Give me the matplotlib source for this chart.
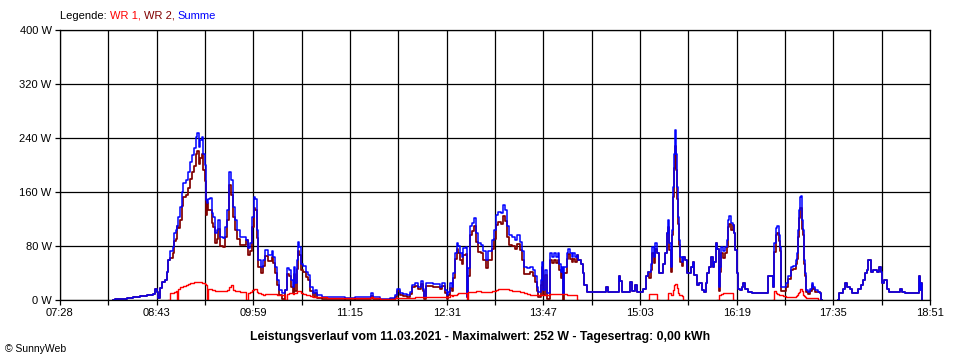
import numpy as np
import matplotlib
matplotlib.use("Agg")
from matplotlib import pyplot as plt

plt.rcParams["font.family"] = ["Liberation Sans", "DejaVu Sans"]

# sample times in minutes after midnight, power in W (None = no value)
times = [
    489.6, 491.2, 495.1, 500.6, 505.3, 510.8, 516.3, 518.7,
    521.0, 522.6, 524.2, 524.9, 526.5, 528.1, 530.4, 532.0,
    532.8, 534.4, 536.7, 537.5, 539.1, 539.9, 540.6, 542.2,
    543.8, 544.6, 546.9, 548.5, 550.1, 551.6, 553.2, 554.8,
    555.6, 557.1, 557.9, 559.5, 560.3, 561.8, 562.6, 563.4,
    564.2, 565.8, 567.3, 568.1, 569.7, 571.3, 572.0, 573.6,
    576.0, 577.5, 579.1, 580.7, 582.2, 583.8, 585.4, 587.0,
    589.3, 591.7, 594.0, 595.6, 597.2, 598.7, 600.3, 601.1,
    602.7, 603.4, 605.8, 607.4, 608.9, 611.3, 614.4, 615.2,
    616.8, 618.4, 619.9, 622.3, 624.6, 626.2, 627.8, 629.3,
    630.9, 631.7, 632.5, 634.1, 634.8, 635.6, 637.2, 638.8,
    641.1, 642.7, 644.3, 646.6, 648.2, 649.8, 653.7, 657.6,
    663.9, 671.7, 679.6, 687.4, 690.6, 692.2, 693.7, 699.2,
    707.1, 711.0, 712.6, 714.9, 717.3, 720.4, 722.8, 724.3,
    726.7, 729.1, 731.4, 733.0, 733.8, 735.3, 738.5, 740.8,
    744.0, 746.3, 747.9, 750.2, 751.8, 752.6, 754.2, 755.7,
    756.5, 758.1, 759.7, 760.5, 762.0, 763.6, 764.4, 766.7,
    767.5, 768.3, 769.9, 771.4, 773.0, 774.6, 776.1, 778.5,
    780.1, 782.4, 784.0, 787.1, 788.7, 790.3, 791.9, 794.2,
    795.8, 797.4, 798.9, 800.5, 802.8, 805.2, 806.8, 809.1,
    810.7, 812.3, 814.6, 817.0, 819.3, 820.9, 822.5, 823.3,
    825.6, 826.4, 827.2, 828.8, 830.3, 832.7, 834.2, 835.8,
    837.4, 839.0, 839.7, 841.3, 842.1, 842.9, 843.7, 846.0,
    846.8, 848.4, 849.9, 850.7, 852.3, 853.9, 854.7, 857.0,
    858.6, 859.4, 861.7, 868.0, 874.3, 876.6, 878.2, 885.3,
    886.8, 887.6, 889.2, 895.5, 897.0, 899.4, 901.0, 905.7,
    908.0, 909.6, 910.4, 912.0, 912.8, 914.3, 915.1, 916.7,
    918.2, 919.0, 921.4, 923.0, 924.5, 925.3, 926.1, 927.7,
    928.5, 929.2, 930.0, 930.8, 931.6, 932.4, 933.2, 934.0,
    934.7, 936.3, 937.1, 938.7, 940.2, 941.8, 943.4, 944.9,
    945.7, 948.1, 949.7, 952.0, 953.6, 955.1, 955.9, 957.5,
    959.1, 960.6, 961.4, 963.0, 963.8, 965.3, 966.1, 966.9,
    968.5, 970.1, 971.6, 972.4, 973.2, 974.8, 976.3, 977.1,
    977.9, 979.5, 980.3, 981.8, 983.4, 984.2, 985.8, 988.1,
    991.3, 997.5, 1003.0, 1003.8, 1007.0, 1007.7, 1008.5, 1010.1,
    1010.9, 1012.5, 1013.2, 1014.0, 1015.6, 1018.0, 1019.5, 1021.9,
    1023.4, 1025.8, 1026.6, 1027.4, 1028.1, 1028.9, 1029.7, 1030.5,
    1031.3, 1032.1, 1032.9, 1033.7, 1035.2, 1036.8, 1038.4, 1039.2,
    1040.7, 1043.1, 1044.6, 1045.4, 1046.2, 1058.8, 1059.6, 1061.9,
    1062.7, 1064.3, 1065.8, 1068.2, 1069.8, 1072.9, 1074.5, 1076.8,
    1078.4, 1080.0, 1081.6, 1082.3, 1083.1, 1084.7, 1086.3, 1089.4,
    1091.0, 1092.5, 1093.3, 1094.9, 1097.2, 1098.8, 1102.0, 1105.1,
    1107.4, 1109.0, 1111.4, 1115.3, 1119.2, 1121.6, 1122.4, 1123.2,
    1123.9, 1124.7,
]

summe = [
    0, 1, 1, 3, 4, 6, 7, 8,
    9, 17, 12, 3, 18, 26, 30, 42,
    59, 72, 79, 99, 104, 110, 123, 138,
    160, 173, 178, 190, 205, 215, 225, 242,
    247, 227, 237, 242, 217, 200, 148, 143,
    150, 151, 129, 123, 99, 104, 118, 94,
    92, 108, 133, 190, 178, 138, 118, 104,
    94, 94, 89, 77, 84, 123, 153, 150,
    104, 59, 49, 59, 74, 67, 72, 64,
    49, 30, 15, 10, 15, 47, 45, 30,
    20, 49, 25, 59, 86, 79, 54, 50,
    42, 37, 20, 10, 15, 7, 5, 4,
    4, 3, 4, 4, 5, 10, 4, 2,
    3, 7, 16, 10, 9, 8, 12, 22,
    25, 20, 28, 17, 5, 25, 25, 24,
    23, 20, 25, 15, 7, 12, 25, 20,
    40, 69, 84, 80, 69, 64, 77, 79,
    5, 47, 109, 114, 121, 99, 84, 82,
    72, 59, 72, 89, 104, 126, 131, 129,
    141, 133, 109, 96, 94, 89, 96, 86,
    72, 49, 47, 49, 44, 35, 20, 12,
    30, 57, 15, 44, 10, 69, 64, 69,
    64, 69, 54, 42, 49, 9, 49, 69,
    76, 69, 64, 69, 64, 67, 59, 54,
    40, 22, 12, 12, 12, 20, 12, 12,
    35, 28, 12, 27, 13, 22, 12, 17,
    35, 42, 42, 54, 79, 64, 84, 69,
    40, 40, 54, 69, 99, 118, 84, 49,
    104, 168, 217, 252, 217, 168, 123, 89,
    64, 57, 64, 59, 40, 40, 49, 57,
    37, 22, 25, 15, 12, 25, 40, 49,
    64, 49, 57, 84, 76, 20, 49, 79,
    72, 79, 89, 118, 124, 114, 111, 99,
    74, 40, 17, 15, 20, 25, 17, 12,
    11, 11, 11, 35, 35, 20, 84, 107,
    109, 96, 79, 20, 20, 25, 35, 49,
    50, 59, 69, 104, 133, 153, 154, 118,
    104, 59, 40, 15, 12, 17, 25, 20,
    15, 12, 11, 0, None, 0, 10, 10,
    17, 25, 20, 17, 11, 11, 17, 22,
    30, 40, 44, 59, 59, 42, 44, 42,
    49, 42, 25, 30, 17, 12, 12, 12,
    17, 12, 11, 11, 11, 10, 35, 15,
    25, 0,
]

wr1 = [
    None, None, None, None, None, None, None, None,
    None, None, None, None, None, None, None, None,
    0, 10, 10, 12, 13, 0, 17, 20,
    20, 21, 22, 24, 25, 25, 26, 26,
    26, 26, 26, 25, 25, 24, 22, 0,
    17, 17, 15, 15, 14, 13, 13, 14,
    13, 14, 15, 20, 22, 15, 14, 13,
    12, 12, 0, 11, 12, 15, 17, 17,
    12, 10, 9, 8, 9, 9, 9, 9,
    9, 8, 8, 8, 0, 9, 10, 10,
    9, 10, 11, 13, 14, 13, 10, 9,
    8, 7, 6, 5, 5, 4, 4, 3,
    3, 3, 3, 3, 3, 4, 3, 2,
    2, 3, 3, 3, 3, 3, 3, 3,
    4, 4, 4, 4, 4, 4, 4, 4,
    4, 4, 4, 5, 5, 5, 7, 6,
    7, 8, 9, 10, 10, 10, 11, 11,
    0, 12, 12, 12, 12, 13, 13, 12,
    12, 12, 12, 13, 14, 15, 16, 17,
    17, 16, 16, 15, 14, 13, 13, 12,
    12, 11, 9, 8, 8, 8, 7, 7,
    8, 8, 8, 7, 8, 9, 9, 9,
    9, 9, 9, 9, 9, 9, 9, 8,
    8, 8, 8, 8, 8, 0, None, None,
    None, None, None, None, None, None, None, None,
    None, None, None, None, None, None, None, None,
    None, 0, 9, 9, 9, 9, 9, 0,
    None, None, None, None, 0, 10, 10, 7,
    7, 15, 22, 24, 24, 18, 10, 8,
    7, 6, 0, None, None, None, None, None,
    None, None, None, None, None, None, None, None,
    None, None, None, None, 0, 7, 8, 9,
    10, 10, 10, 10, 11, 11, 0, None,
    None, None, None, None, None, None, None, None,
    None, None, None, None, None, 0, 13, 10,
    9, 8, 7, 7, 6, 5, 4, 4,
    4, 6, 8, 10, 12, 17, 17, 13,
    8, 6, 4, 3, 3, 3, 3, 3,
    3, 0, None, None, None, None, None, None,
    None, None, None, None, None, None, None, None,
    None, None, None, None, None, None, None, None,
    None, None, None, None, None, None, None, None,
    None, None, None, None, None, None, None, None,
    None, None,
]

x_labels = ["07:28", "08:43", "09:59", "11:15", "12:31",
            "13:47", "15:03", "16:19", "17:35", "18:51"]
y_ticks = [0, 80, 160, 240, 320, 400]
legend_parts = ["Legende: ", "WR 1, ", "WR 2, ", "Summe"]
legend_colors = ["black", "#ff0000", "#800000", "#0000ff"]

t = np.array(times)
s = np.array(summe, dtype=float)
r1 = np.array(wr1, dtype=float)
r2 = np.where(np.isnan(r1), s, np.clip(s - r1, 0, None))

fig = plt.figure(figsize=(9.6, 3.6), dpi=100)
ax = fig.add_axes([60 / 960, 60 / 360, 870 / 960, 270 / 360])

t0, t1 = 448, 1131
grid_x = np.linspace(t0, t1, 2 * len(x_labels) - 1)
ax.set_xlim(t0, t1)
ax.set_ylim(0, 400)
ax.set_xticks(grid_x)
ax.set_xticklabels([x_labels[i // 2] if i % 2 == 0 else "" for i in range(len(grid_x))])
ax.set_yticks(y_ticks)
ax.set_yticklabels([f"{v} W" for v in y_ticks])
ax.set_axisbelow(True)
ax.grid(True, color="black", lw=0.9)
ax.tick_params(direction="out", length=3.6, width=0.9, colors="black",
               labelsize=8, pad=2.5)
for sp in ax.spines.values():
    sp.set_linewidth(0.9)
    sp.set_color("black")

ax.plot(t, r2, drawstyle="steps-post", color="#800000", lw=1.25)
ax.plot(t, s, drawstyle="steps-post", color="#0000ff", lw=1.1)
ax.plot(t, r1, drawstyle="steps-post", color="#ff0000", lw=1.0)

fig.text(0.5, 1 - 337 / 360,
         "Leistungsverlauf vom 11.03.2021 - Maximalwert: 252 W - Tagesertrag: 0,00 kWh",
         ha="center", va="center", fontsize=8.8, fontweight="bold")
fig.text(5 / 960, 1 - 349 / 360, "\u00a9 SunnyWeb", ha="left", va="center", fontsize=7.5)

renderer = fig.canvas.get_renderer()
x = 60 / 960
for part, col in zip(legend_parts, legend_colors):
    txt = fig.text(x, 1 - 16 / 360, part, color=col, fontsize=8, ha="left", va="center")
    x += txt.get_window_extent(renderer).width / fig.bbox.width

fig.savefig("out.png", dpi=100)
plt.close(fig)
